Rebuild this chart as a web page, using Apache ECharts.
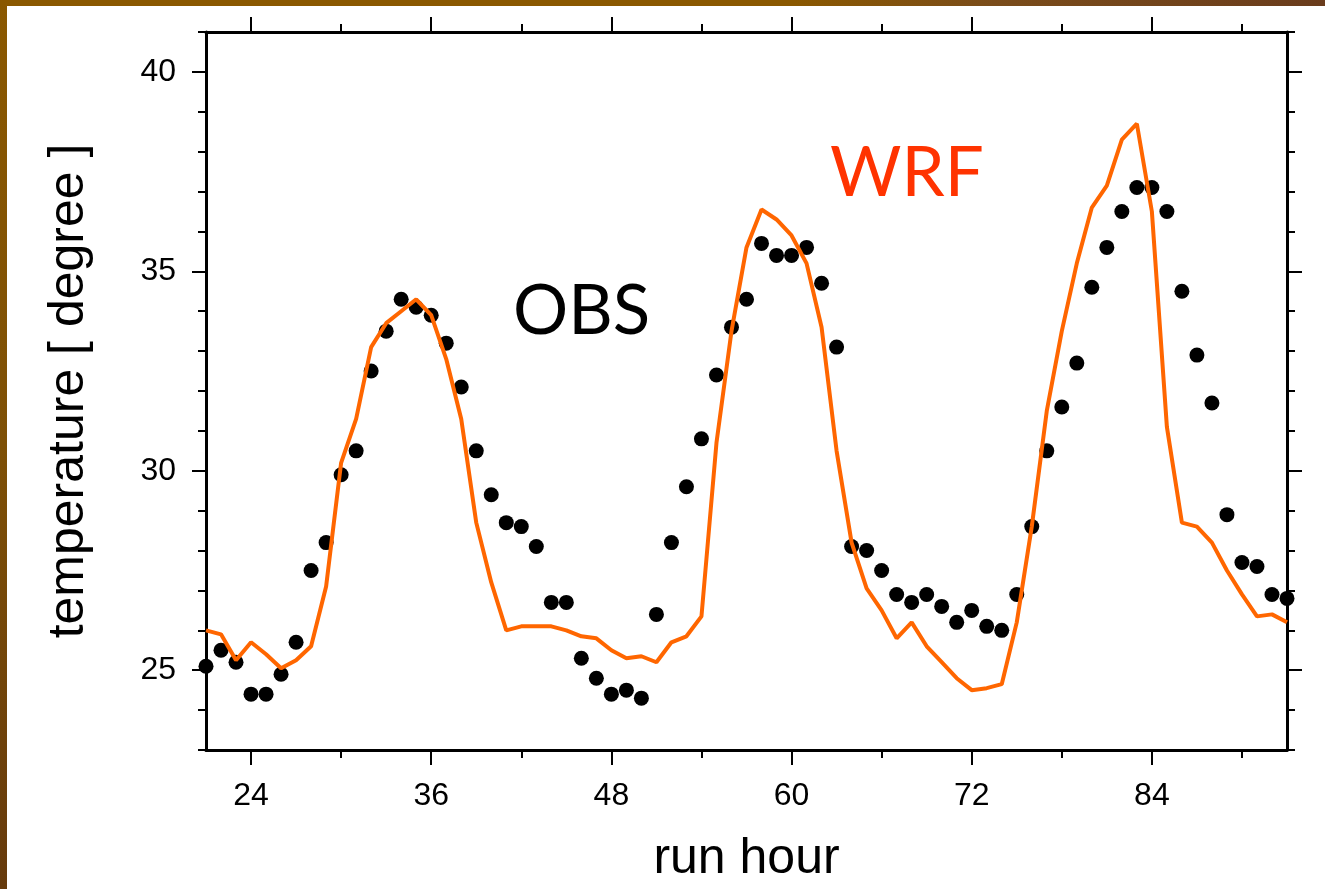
<!DOCTYPE html>
<html>
<head>
<meta charset="utf-8">
<script src="https://cdn.jsdelivr.net/npm/echarts@6/dist/echarts.min.js"></script>
<style>
html,body{margin:0;padding:0;background:#fff;}
#chart{width:1325px;height:889px;}
</style>
</head>
<body>
<div id="chart"></div>
<script>
// run hours of the observations / model output
const hours = [21,22,23,24,25,26,27,28,29,30,31,32,33,34,35,36,37,38,39,40,
  41,42,43,44,45,46,47,48,49,50,51,52,53,54,55,56,57,58,59,60,
  61,62,63,64,65,66,67,68,69,70,71,72,73,74,75,76,77,78,79,80,
  81,82,83,84,85,86,87,88,89,90,91,92,93];
// observed temperature (dots)
const obs = [25.1,25.5,25.2,24.4,24.4,24.9,25.7,27.5,28.2,29.9,
  30.5,32.5,33.5,34.3,34.1,33.9,33.2,32.1,30.5,29.4,
  28.7,28.6,28.1,26.7,26.7,25.3,24.8,24.4,24.5,24.3,
  26.4,28.2,29.6,30.8,32.4,33.6,34.3,35.7,35.4,35.4,
  35.6,34.7,33.1,28.1,28.0,27.5,26.9,26.7,26.9,26.6,
  26.2,26.5,26.1,26.0,26.9,28.6,30.5,31.6,32.7,34.6,
  35.6,36.5,37.1,37.1,36.5,34.5,32.9,31.7,28.9,27.7,
  27.6,26.9,26.8];
// WRF model temperature (line)
const wrf = [26.0,25.9,25.25,25.7,25.4,25.05,25.25,25.6,27.1,30.2,
  31.3,33.1,33.7,34.0,34.3,33.9,32.8,31.3,28.7,27.2,
  26.0,26.1,26.1,26.1,26.0,25.85,25.8,25.5,25.3,25.35,
  25.2,25.7,25.85,26.35,30.7,33.5,35.6,36.55,36.3,35.9,
  35.2,33.6,30.5,28.2,27.05,26.5,25.8,26.2,25.6,25.2,
  24.8,24.5,24.55,24.65,26.2,28.6,31.5,33.5,35.2,36.6,
  37.15,38.3,38.7,36.5,31.1,28.7,28.6,28.2,27.5,26.9,
  26.35,26.4,26.2];
const xMajor = [24,36,48,60,72,84];
const xMinor = [30,42,54,66,78,90];
const yMajor = [25,30,35,40];
const yMinor = [23,24,26,27,28,29,31,32,33,34,36,37,38,39,41];
const xLabel = 'run hour';
const yLabel = 'temperature [ degree ]';

const chart = echarts.init(document.getElementById('chart'), null, {renderer:'canvas'});
const FONT = '"Liberation Sans", Arial, sans-serif';
const lineBlack = {show:true, lineStyle:{color:'#000', width:3}};
const noLine = {show:false};
function xAx(pos, ticks, len, opts){
  return Object.assign({
    type:'value', position:pos, min:21, max:93,
    axisLine: opts && opts.line ? lineBlack : noLine,
    axisTick:{show:true, inside:false, customValues:ticks, length:len, lineStyle:{color:'#000', width:2}},
    axisLabel:{show:false},
    splitLine:{show:false}
  }, opts && opts.extra || {});
}
function yAx(pos, ticks, len, opts){
  return Object.assign({
    type:'value', position:pos, min:23, max:41,
    axisLine: opts && opts.line ? lineBlack : noLine,
    axisTick:{show:true, inside:false, customValues:ticks, length:len, lineStyle:{color:'#000', width:2}},
    axisLabel:{show:false},
    splitLine:{show:false}
  }, opts && opts.extra || {});
}

const option = {
  backgroundColor:'#fff',
  animation:false,
  grid:{left:206, top:32, right:38, bottom:138, containLabel:false},
  xAxis:[
    xAx('bottom', xMajor, 15, {line:true, extra:{
      axisLabel:{show:true, customValues:xMajor, fontSize:32, color:'#000', fontFamily:FONT, margin:30},
      name:xLabel, nameLocation:'middle', nameGap:84,
      nameTextStyle:{fontSize:50, color:'#000', fontFamily:FONT}
    }}),
    xAx('bottom', xMinor, 8),
    xAx('top', xMajor, 15, {line:true}),
    xAx('top', xMinor, 8)
  ],
  yAxis:[
    yAx('left', yMajor, 14, {line:true, extra:{
      axisLabel:{show:true, customValues:yMajor, fontSize:32, color:'#000', fontFamily:FONT, margin:30},
      name:yLabel, nameLocation:'middle', nameGap:112,
      nameTextStyle:{fontSize:50, color:'#000', fontFamily:FONT}
    }}),
    yAx('left', yMinor, 8),
    yAx('right', yMajor, 15, {line:true}),
    yAx('right', yMinor, 8)
  ],
  series:[
    {
      name:'OBS', type:'scatter', xAxisIndex:0, yAxisIndex:0,
      data: hours.map((h,i)=>[h, obs[i]]),
      symbol:'circle', symbolSize:15,
      itemStyle:{color:'#000', opacity:1}, z:2
    },
    {
      name:'WRF', type:'line', xAxisIndex:0, yAxisIndex:0,
      data: hours.map((h,i)=>[h, wrf[i]]),
      showSymbol:false, symbol:'none',
      lineStyle:{color:'#ff6600', width:4}, z:3
    }
  ],
  graphic:[
    {type:'rect', left:0, top:0, z:100, shape:{width:1325, height:6},
      style:{fill:new echarts.graphic.LinearGradient(0,0,1,0,[
        {offset:0, color:'#8a5800'},{offset:0.6, color:'#8a5800'},{offset:0.75, color:'#7a4c1a'},{offset:1, color:'#6a3c1c'}])}},
    {type:'rect', left:0, top:0, z:100, shape:{width:7, height:889},
      style:{fill:new echarts.graphic.LinearGradient(0,0,0,1,[
        {offset:0, color:'#8a5800'},{offset:0.5, color:'#7e5006'},{offset:1, color:'#663a0c'}])}},
    {type:'text', left:513, top:277, z:50,
      style:{text:'OBS', fill:'#000', font:'69px Lato, "Open Sans", sans-serif'}},
    {type:'text', left:830, top:139, z:50,
      style:{text:'WRF', fill:'#ff3300', font:'69px Lato, "Open Sans", sans-serif'}}
  ]
};
chart.setOption(option);
</script>
</body>
</html>
